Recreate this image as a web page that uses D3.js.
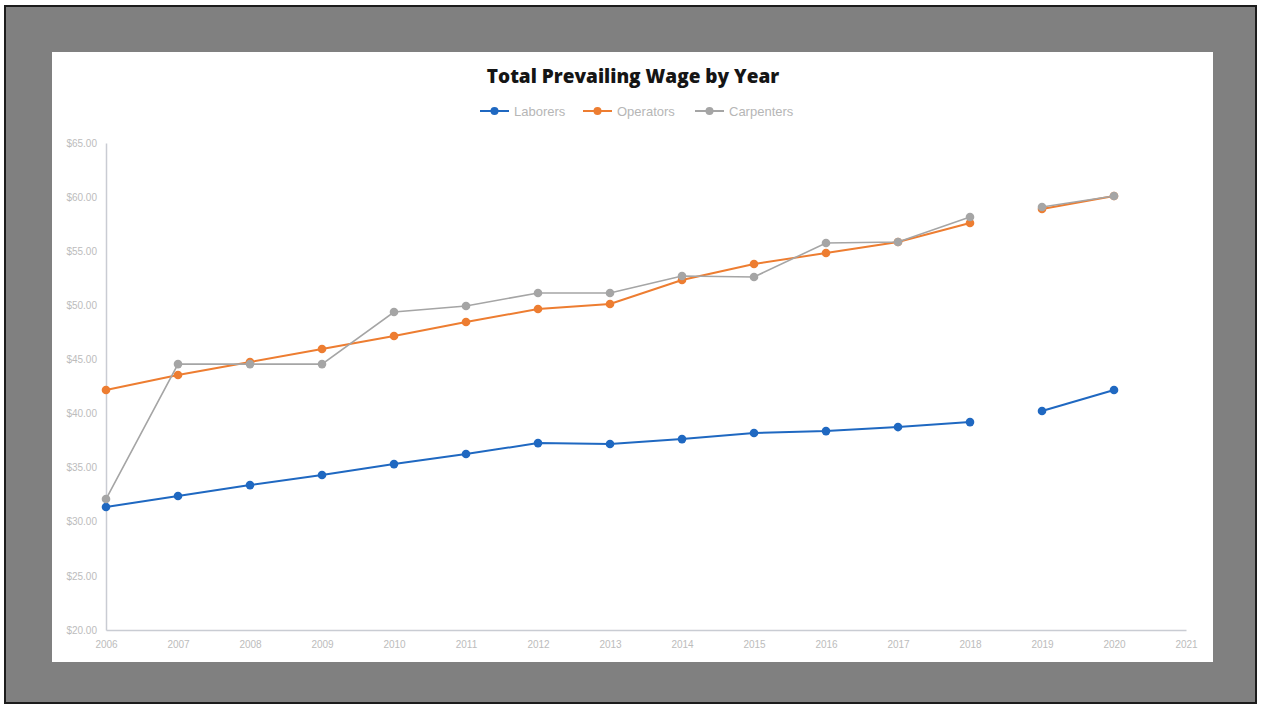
<!DOCTYPE html>
<html>
<head>
<meta charset="utf-8">
<script src="https://cdn.jsdelivr.net/npm/d3@7"></script>
<style>
  html, body { margin: 0; padding: 0; background: #ffffff; }
  svg { display: block; }
</style>
</head>
<body>
<div id="chart"></div>
<script>
// chart data
const years = [2006, 2007, 2008, 2009, 2010, 2011, 2012, 2013, 2014, 2015, 2016, 2017, 2018, 2019, 2020];
const axisYears = [2006, 2007, 2008, 2009, 2010, 2011, 2012, 2013, 2014, 2015, 2016, 2017, 2018, 2019, 2020, 2021];
const laborers = [31.36, 32.38, 33.39, 34.32, 35.33, 36.26, 37.27, 37.18, 37.64, 38.20, 38.38, 38.75, 39.21, 40.23, 42.17];
const operators = [42.17, 43.56, 44.76, 45.96, 47.16, 48.46, 49.66, 50.12, 52.34, 53.82, 54.83, 55.85, 57.61, 58.90, 60.10];
const carpenters = [32.10, 44.57, 44.57, 44.57, 49.38, 49.94, 51.14, 51.14, 52.71, 52.62, 55.76, 55.85, 58.16, 59.09, 60.10];
const seriesNames = ["Laborers", "Operators", "Carpenters"];
const yTicks = [20, 25, 30, 35, 40, 45, 50, 55, 60, 65];
// the line is not drawn between this year and the next one
const breakAfter = [2018];

const W = 1262, H = 708;
const colors = ["#1f68c1", "#ed7d31", "#a5a5a5"];

const svg = d3.select("#chart").append("svg")
    .attr("width", W)
    .attr("height", H);

// scanned frame: dark outline, grey mat, white chart area
svg.append("rect")
    .attr("x", 5).attr("y", 6)
    .attr("width", 1251).attr("height", 697)
    .attr("fill", "#808080")
    .attr("stroke", "#1c1c1c")
    .attr("stroke-width", 2);

svg.append("rect")
    .attr("x", 52).attr("y", 52)
    .attr("width", 1161).attr("height", 610)
    .attr("fill", "#ffffff");

// scales
const x = d3.scalePoint()
    .domain(axisYears)
    .range([106, 1186]);

const y = d3.scaleLinear()
    .domain([20, 65])
    .range([630, 143]);

// axes
const yAxis = svg.append("g")
    .attr("transform", "translate(106,0)")
    .call(d3.axisLeft(y).tickValues(yTicks).tickFormat(d3.format("$.2f")).tickSize(0).tickPadding(9));

const xAxis = svg.append("g")
    .attr("transform", "translate(0,630)")
    .call(d3.axisBottom(x).tickSize(0).tickPadding(11));

[yAxis, xAxis].forEach(a => {
    a.select(".domain").attr("stroke", "#c9ccd3").attr("stroke-width", 1.5);
    a.selectAll("text")
        .attr("fill", "#bcbcbc")
        .style("font-family", "'Liberation Sans', Arial, sans-serif")
        .style("font-size", "10px");
});

// title
svg.append("text")
    .attr("x", 633)
    .attr("y", 83)
    .attr("text-anchor", "middle")
    .style("font-family", "'Open Sans', 'DejaVu Sans', sans-serif")
    .style("font-weight", "800")
    .style("font-size", "19px")
    .attr("fill", "#151515")
    .text("Total Prevailing Wage by Year");

// series
const allSeries = [laborers, operators, carpenters];

const line = d3.line()
    .defined(d => d.v != null)
    .x(d => x(d.year))
    .y(d => y(d.v));

allSeries.forEach((vals, i) => {
    let pts = years.map((yr, j) => ({year: yr, v: vals[j]}));

    // split into pieces where the chart leaves a gap
    let pieces = [];
    let cur = [];
    pts.forEach(p => {
        cur.push(p);
        if (breakAfter.includes(p.year)) {
            pieces.push(cur);
            cur = [];
        }
    });
    if (cur.length) pieces.push(cur);

    let g = svg.append("g").attr("class", "series-" + i);

    pieces.forEach(piece => {
        g.append("path")
            .datum(piece)
            .attr("fill", "none")
            .attr("stroke", colors[i])
            .attr("stroke-width", i === 2 ? 1.6 : 2)
            .attr("d", line);
    });

    g.selectAll("circle")
        .data(pts)
        .enter().append("circle")
        .attr("cx", d => x(d.year))
        .attr("cy", d => y(d.v))
        .attr("r", 4.3)
        .attr("fill", colors[i]);
});

// legend
const legendX = [480, 583, 695];
const legend = svg.append("g");
seriesNames.forEach((name, i) => {
    let lg = legend.append("g").attr("transform", "translate(" + legendX[i] + ",111)");
    lg.append("line")
        .attr("x1", 0).attr("x2", 29)
        .attr("stroke", colors[i])
        .attr("stroke-width", 2);
    lg.append("circle")
        .attr("cx", 14.5).attr("cy", 0)
        .attr("r", 4)
        .attr("fill", colors[i]);
    lg.append("text")
        .attr("x", 34)
        .attr("y", 4.5)
        .attr("fill", "#b6b6b6")
        .style("font-family", "'Liberation Sans', Arial, sans-serif")
        .style("font-size", "13px")
        .text(name);
});
</script>
</body>
</html>
